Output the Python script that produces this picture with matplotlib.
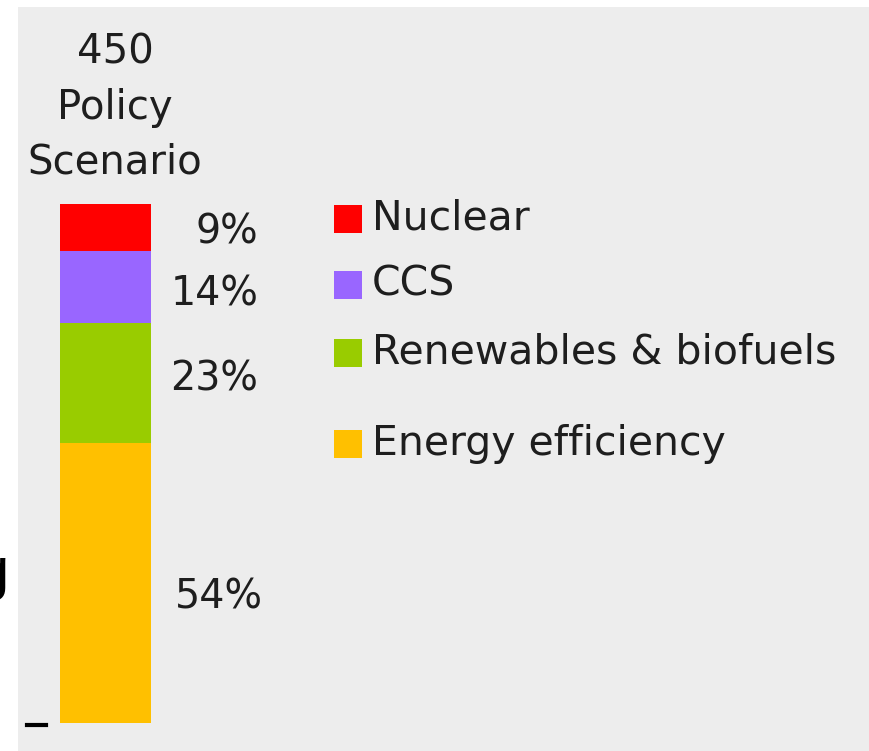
import matplotlib
matplotlib.use('Agg')
import matplotlib.pyplot as plt
from matplotlib.patches import Rectangle
from matplotlib.lines import Line2D

# data
sources = ['Energy efficiency', 'Renewables & biofuels', 'CCS', 'Nuclear']
shares = [54, 23, 14, 9]
colors = ['#ffc000', '#99cc00', '#9966ff', '#ff0000']
title = '450\nPolicy\nScenario'

W, H = 869, 751
plt.rcParams['font.family'] = ['DejaVu Sans']
txt = '#1e1e1e'

fig = plt.figure(figsize=(W / 100, H / 100), dpi=100)
fig.patch.set_facecolor('white')

def fx(px):
    return px / W

def fy(py):
    return 1 - py / H

# grey panel
bg = fig.add_axes([fx(18), 0, 1 - fx(18), fy(7)])
bg.set_facecolor('#ededed')
bg.set_xticks([])
bg.set_yticks([])
for s in bg.spines.values():
    s.set_visible(False)

# stacked bar
ax = fig.add_axes([fx(60), fy(723), fx(91), 519 / H])
ax.patch.set_alpha(0)
bottom = 0
nudge = [-2.9, 0.6, -1.5, -0.9]
for i, (v, c) in enumerate(zip(shares, colors)):
    ax.bar(0, v, width=1, bottom=bottom, color=c, linewidth=0)
    xl = 1.73 if i == 0 else 1.68
    ax.text(xl, bottom + v / 2 + nudge[i], f'{v}%', ha='right', va='center',
            fontsize=28.5, color=txt, clip_on=False)
    bottom += v
ax.set_xlim(-0.5, 0.5)
ax.set_ylim(0, 100)
ax.axis('off')

fig.text(fx(115), fy(174), title, ha='center', va='baseline', fontsize=29,
         color=txt, linespacing=1.5)

# legend, drawn by hand (uneven row spacing in the original)
rows = [219, 285, 353, 444]
for lab, c, yc in zip(sources[::-1], colors[::-1], rows):
    fig.add_artist(Rectangle((fx(334), fy(yc + 14)), fx(28), 28 / H,
                             transform=fig.transFigure, color=c, lw=0))
    fig.text(fx(372), fy(yc), lab, ha='left', va='center', fontsize=29.5,
             color=txt)

# clipped leftovers from the neighbouring slide element
fig.text(fx(9), fy(589), 'g', ha='right', va='baseline', fontsize=43,
         family='Liberation Sans', color='black')
fig.add_artist(Line2D([fx(27), fx(46)], [fy(725), fy(725)],
                      transform=fig.transFigure, color='black', lw=3))

fig.savefig('out.png', dpi=100)
